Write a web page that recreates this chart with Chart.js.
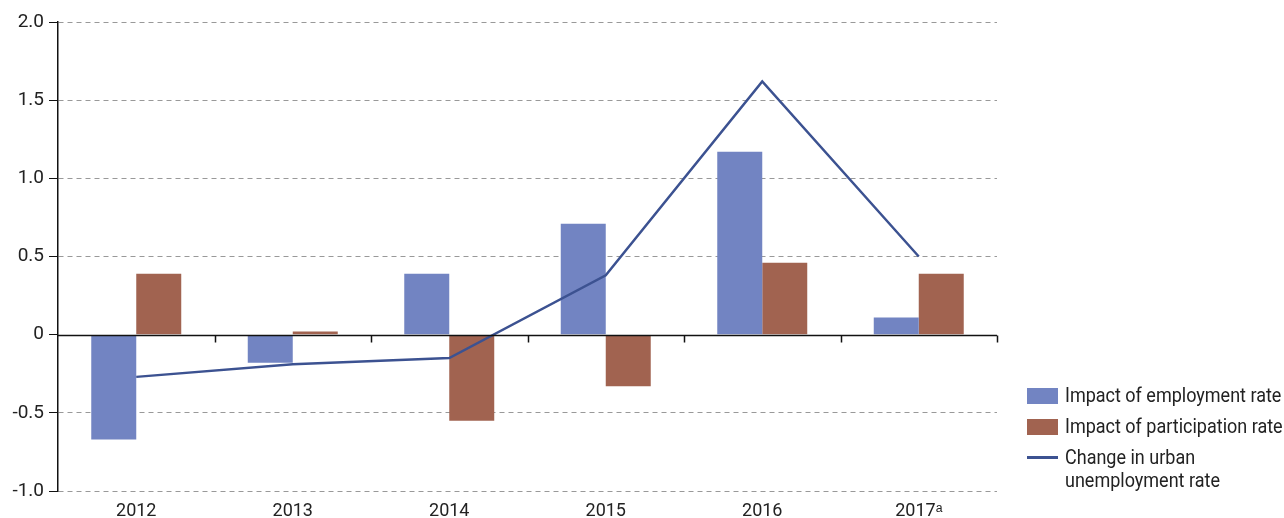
<!DOCTYPE html>
<html>
<head>
<meta charset="utf-8">
<script src="https://cdn.jsdelivr.net/npm/chart.js@4/dist/chart.umd.min.js"></script>
<style>
  html, body { margin: 0; padding: 0; background: #fff; }
  #wrap { position: relative; width: 1284px; height: 518px; overflow: hidden; }
  #legend { position: absolute; left: 1027px; top: 384px; width: 257px; font-family: Roboto, sans-serif; font-size: 20px; color: #222; white-space: nowrap; }
  .item { display: flex; align-items: flex-start; margin-bottom: 8px; line-height: 23px; }
  .sw { width: 31px; flex: none; margin-right: 7px; }
  .txt { transform: scaleX(0.9); transform-origin: left top; }
</style>
</head>
<body>
<div id="wrap">
  <canvas id="c" width="1284" height="518"></canvas>
  <div id="legend"></div>
</div>
<script>
const years = ['2012', '2013', '2014', '2015', '2016', '2017\u1D43'];
const employmentImpact = [-0.67, -0.18, 0.39, 0.71, 1.17, 0.11];
const participationImpact = [0.39, 0.02, -0.55, -0.33, 0.46, 0.39];
const unemploymentChange = [-0.27, -0.19, -0.15, 0.38, 1.62, 0.50];
const yTicks = [-1.0, -0.5, 0, 0.5, 1.0, 1.5, 2.0];

const FONT = 'Roboto, sans-serif';
const BLUE = '#7284c2';
const RED = '#a16350';
const LINE = '#3c5291';

// Solid zero line with small downward ticks at each category boundary
const zeroTicks = {
  id: 'zeroTicks',
  afterDatasetsDraw(chart) {
    const { ctx, scales: { x, y } } = chart;
    const y0 = Math.round(y.getPixelForValue(0)) + 0.5;
    const step = x.getPixelForTick(1) - x.getPixelForTick(0);
    ctx.save();
    ctx.strokeStyle = '#111';
    ctx.lineWidth = 1.5;
    ctx.beginPath();
    ctx.moveTo(chart.chartArea.left, y0);
    ctx.lineTo(chart.chartArea.right, y0);
    for (let i = 0; i < years.length; i++) {
      const xp = Math.round(x.getPixelForTick(i) + step / 2) + 0.5;
      ctx.moveTo(xp, y0);
      ctx.lineTo(xp, y0 + 7);
    }
    ctx.stroke();
    ctx.restore();
  }
};

const chart = new Chart(document.getElementById('c'), {
  data: {
    labels: years,
    datasets: [
      { type: 'line', label: 'Change in urban\nunemployment rate', data: unemploymentChange,
        borderColor: LINE, borderWidth: 2.5, pointRadius: 0, tension: 0, order: 0 },
      { type: 'bar', label: 'Impact of employment rate', data: employmentImpact,
        backgroundColor: BLUE, categoryPercentage: 0.575, barPercentage: 1.0, order: 1 },
      { type: 'bar', label: 'Impact of participation rate', data: participationImpact,
        backgroundColor: RED, categoryPercentage: 0.575, barPercentage: 1.0, order: 1 }
    ]
  },
  options: {
    responsive: false,
    animation: false,
    layout: { padding: { top: 22, right: 287, left: 0, bottom: 0 } },
    plugins: { legend: { display: false }, tooltip: { enabled: false } },
    scales: {
      x: {
        offset: true,
        grid: { display: false, drawTicks: false },
        border: { display: false },
        ticks: { font: { family: FONT, size: 18 }, color: '#222', padding: 10, maxRotation: 0 },
        afterFit(s) { s.height = 27; }
      },
      y: {
        min: -1, max: 2,
        afterBuildTicks(s) { s.ticks = yTicks.map(v => ({ value: v })); },
        afterFit(s) { s.width = 58; },
        border: { display: true, color: '#111', width: 1.5, dash: [5, 4] },
        grid: {
          color: ctx => (ctx.tick && ctx.tick.value === 0 ? 'rgba(0,0,0,0)' : '#999'),
          lineWidth: 1,
          tickColor: '#111',
          tickLength: 9,
          tickBorderDash: [],
          drawTicks: true
        },
        ticks: {
          font: { family: FONT, size: 19 }, color: '#222', padding: 5,
          callback: v => (v === 0 ? '0' : v.toFixed(1))
        }
      }
    }
  },
  plugins: [zeroTicks]
});

// Legend built from the chart's datasets
const legend = document.getElementById('legend');
[1, 2, 0].forEach(i => {
  const ds = chart.data.datasets[i];
  const item = document.createElement('div');
  item.className = 'item';
  const sw = document.createElement('div');
  sw.className = 'sw';
  if (ds.type === 'bar') {
    sw.style.height = '16px';
    sw.style.marginTop = '4px';
    sw.style.background = ds.backgroundColor;
  } else {
    sw.style.height = '3px';
    sw.style.marginTop = '10px';
    sw.style.background = ds.borderColor;
  }
  const txt = document.createElement('div');
  txt.className = 'txt';
  txt.innerHTML = ds.label.replace('\n', '<br>');
  item.appendChild(sw);
  item.appendChild(txt);
  legend.appendChild(item);
});
</script>
</body>
</html>
